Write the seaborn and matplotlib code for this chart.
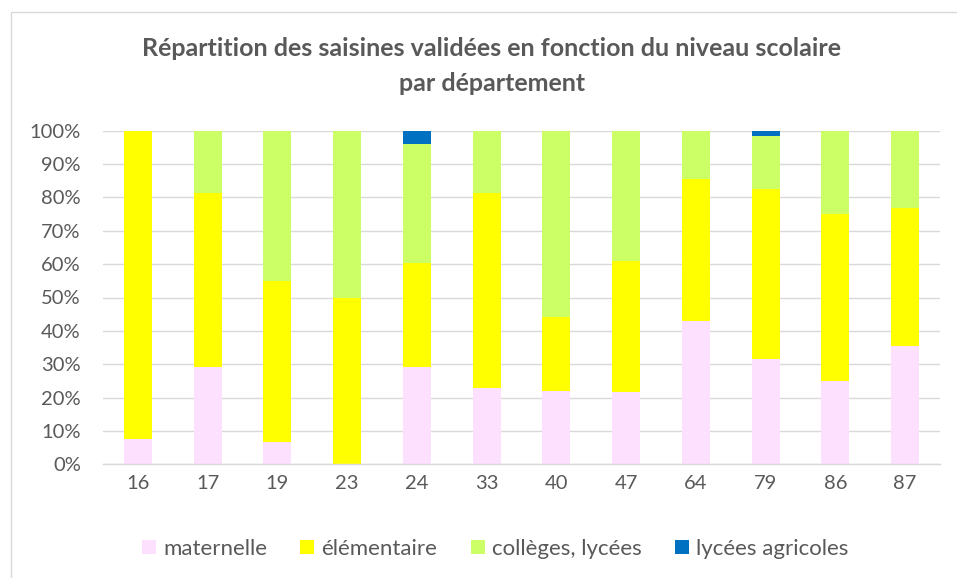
import numpy as np
import pandas as pd
import matplotlib.pyplot as plt
import seaborn as sns
from matplotlib.patches import Patch, Rectangle

departements = ["16", "17", "19", "23", "24", "33", "40", "47", "64", "79", "86", "87"]
maternelle = [7.5, 29.1, 6.8, 0.0, 29.1, 23.0, 22.0, 21.6, 42.9, 31.7, 25.0, 35.6]
elementaire = [92.5, 52.1, 48.2, 50.0, 31.1, 58.4, 22.3, 39.2, 42.7, 50.8, 50.0, 41.3]
colleges_lycees = [0.0, 18.8, 45.0, 50.0, 35.7, 18.6, 55.7, 39.2, 14.4, 16.0, 25.0, 23.1]
lycees_agricoles = [0.0, 0.0, 0.0, 0.0, 4.1, 0.0, 0.0, 0.0, 0.0, 1.5, 0.0, 0.0]

series_names = ["maternelle", "élémentaire", "collèges, lycées", "lycées agricoles"]
colors = ["#FDE0FD", "#FFFF00", "#CCFF66", "#0070C0"]
TEXT = "#595959"
GRID = "#D9D9D9"

sns.set_theme(style="white")
plt.rcParams["font.family"] = ["Lato", "DejaVu Sans"]

df = pd.DataFrame({
    "departement": departements,
    series_names[0]: maternelle,
    series_names[1]: elementaire,
    series_names[2]: colleges_lycees,
    series_names[3]: lycees_agricoles,
})
# 100% stacked: normalise each row, then cumulative sums for layered bars
vals = df[series_names].to_numpy(dtype=float)
vals = vals / vals.sum(axis=1, keepdims=True)
cum = np.cumsum(vals, axis=1)

fig = plt.figure(figsize=(9.57, 5.78), dpi=100)
ax = fig.add_axes([103 / 957, 1 - 464.3 / 578, (940 - 103) / 957, (464.3 - 130.7) / 578])

# draw from the top layer down so each smaller cumulative bar covers the last
for i in reversed(range(len(series_names))):
    layer = pd.DataFrame({"departement": departements, "cum": cum[:, i]})
    sns.barplot(data=layer, x="departement", y="cum", color=colors[i],
                width=0.4, saturation=1, edgecolor="none", ax=ax)

ax.set_ylim(0, 1)
ax.set_xlim(-0.5, len(departements) - 0.5)
ax.set_yticks(np.arange(0, 1.01, 0.1))
ax.set_yticklabels([f"{int(round(t * 100))}%" for t in np.arange(0, 1.01, 0.1)])
ax.yaxis.grid(True, color=GRID, linewidth=1.0)
ax.set_axisbelow(True)
ax.set_xlabel(None)
ax.set_ylabel(None)
for s in ["top", "right", "left"]:
    ax.spines[s].set_visible(False)
ax.spines["bottom"].set_color(GRID)
ax.spines["bottom"].set_linewidth(1.0)
ax.tick_params(axis="y", length=0, pad=16, labelsize=14.5, labelcolor=TEXT)
ax.tick_params(axis="x", length=0, pad=8, labelsize=14.5, labelcolor=TEXT)

fig.text(492 / 957, 1 - 66 / 578,
         "Répartition des saisines validées en fonction du niveau scolaire\npar département",
         ha="center", va="center", fontsize=18, fontweight="bold", color=TEXT,
         linespacing=1.6)

handles = [Patch(facecolor=c, edgecolor="none") for c in colors]
fig.legend(handles=handles, labels=series_names, loc="center",
           bbox_to_anchor=(495 / 957, 1 - 549 / 578), ncol=4, frameon=False,
           fontsize=16, labelcolor=TEXT, handlelength=0.63, handleheight=0.63,
           handletextpad=0.32, columnspacing=1.5)

fig.patches.append(Rectangle((10.5 / 957, -0.1), 1.2, 1 - 12 / 578 + 0.1,
                             transform=fig.transFigure, fill=False,
                             edgecolor=GRID, linewidth=1.0))

fig.savefig("out.png", dpi=100)
